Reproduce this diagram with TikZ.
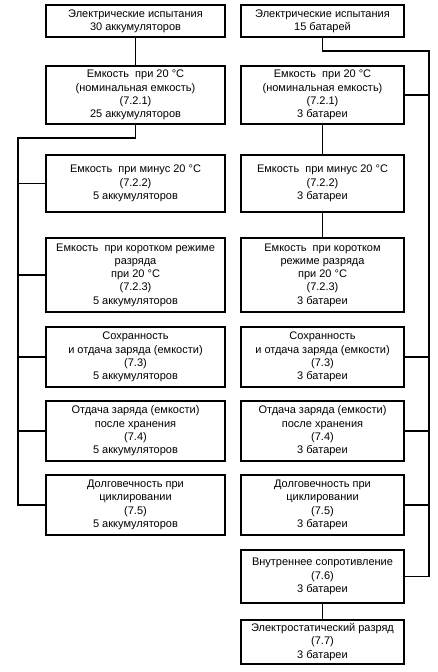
\documentclass[tikz,border=0pt]{standalone}
\usepackage{fontspec}
\setmainfont{Liberation Sans}
\begin{document}
\begin{tikzpicture}[x=1pt,y=-1pt,
  box/.style={draw=black,line width=1.7pt,align=center,inner sep=0pt,
    font=\fontsize{11}{13.3}\selectfont,text=black},
  lbox/.style={box,minimum width=179pt},
  rbox/.style={box,minimum width=163pt},
  conn/.style={line width=1.7pt,draw=black}]
\useasboundingbox (0,0) rectangle (437,672);
% left column
\node[lbox,minimum height=32pt] (L1) at (135.5,21) {Электрические испытания\\30 аккумуляторов};
\node[lbox,minimum height=58pt] (L2) at (135.5,95) {Емкость\ \ при 20 °C\\(номинальная емкость)\\(7.2.1)\\25 аккумуляторов};
\node[lbox,minimum height=57pt] (L3) at (135.5,183.5) {Емкость\ \ при минус 20 °C\\(7.2.2)\\5 аккумуляторов};
\node[lbox,minimum height=74pt] (L4) at (135.5,275) {Емкость\ \ при коротком режиме\\разряда\\при 20 °C\\(7.2.3)\\5 аккумуляторов};
\node[lbox,minimum height=60pt] (L5) at (135.5,357) {Сохранность\\и отдача заряда (емкости)\\(7.3)\\5 аккумуляторов};
\node[lbox,minimum height=60pt] (L6) at (135.5,431) {Отдача заряда (емкости)\\после хранения\\(7.4)\\5 аккумуляторов};
\node[lbox,minimum height=60pt] (L7) at (135.5,505) {Долговечность при\\циклировании\\(7.5)\\5 аккумуляторов};
% right column
\node[rbox,minimum height=32pt] (R1) at (322.5,21) {Электрические испытания\\15 батарей};
\node[rbox,minimum height=58pt] (R2) at (322.5,95) {Емкость\ \ при 20 °C\\(номинальная емкость)\\(7.2.1)\\3 батареи};
\node[rbox,minimum height=57pt] (R3) at (322.5,183.5) {Емкость\ \ при минус 20 °C\\(7.2.2)\\3 батареи};
\node[rbox,minimum height=74pt] (R4) at (322.5,275) {Емкость\ \ при коротком\\режиме разряда\\при 20 °C\\(7.2.3)\\3 батареи};
\node[rbox,minimum height=60pt] (R5) at (322.5,357) {Сохранность\\и отдача заряда (емкости)\\(7.3)\\3 батареи};
\node[rbox,minimum height=60pt] (R6) at (322.5,431) {Отдача заряда (емкости)\\после хранения\\(7.4)\\3 батареи};
\node[rbox,minimum height=60pt] (R7) at (322.5,505) {Долговечность при\\циклировании\\(7.5)\\3 батареи};
\node[rbox,minimum height=53pt] (R8) at (322.5,576.5) {Внутреннее сопротивление\\(7.6)\\3 батареи};
\node[rbox,minimum height=44pt] (R9) at (322.5,642) {Электростатический разряд\\(7.7)\\3 батареи};
% rail coordinates
\coordinate (lc) at (135.5,138);
\coordinate (lt) at (18,138);
\coordinate (rc) at (322.5,51);
\coordinate (rt) at (429,51);
% left connectors
\draw[conn] (L1) -- (L2);
\draw[conn] (L2.south) -- (lc) -- (lt) |- (L7.west);
\foreach \n in {L3,L4,L5,L6} \draw[conn] (\n.west) -- (\n.west -| lt);
% right connectors
\draw[conn] (R1.south) -- (rc) -- (rt) |- (R8.east);
\foreach \n in {R2,R5,R6,R7} \draw[conn] (\n.east) -- (\n.east -| rt);
\draw[conn] (R2) -- (R3);
\draw[conn] (R3) -- (R4);
\draw[conn] (R8) -- (R9);
\end{tikzpicture}
\end{document}
